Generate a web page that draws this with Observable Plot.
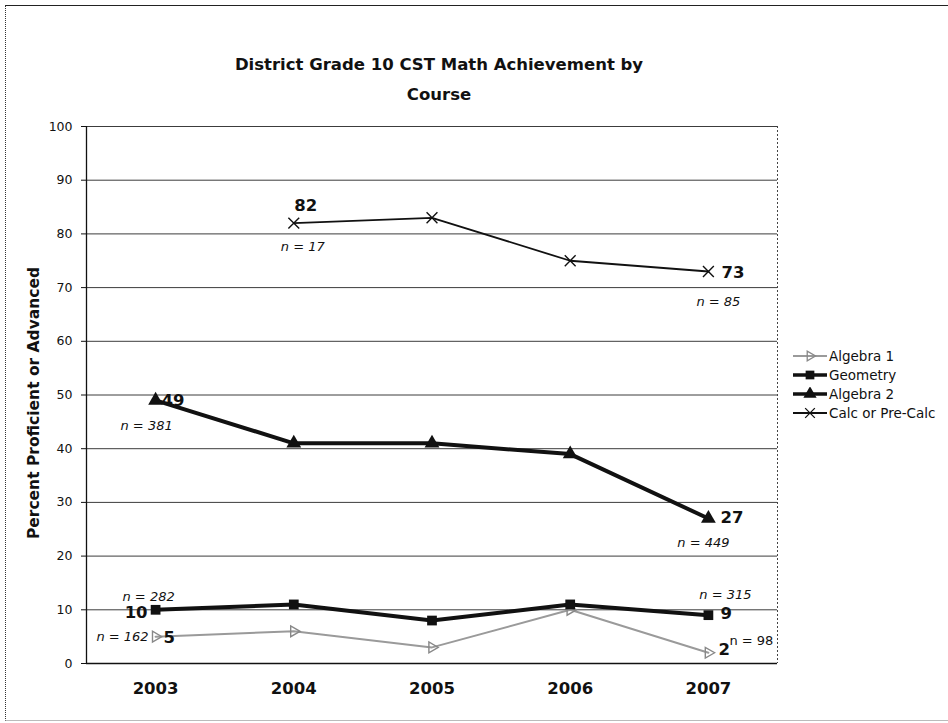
<!DOCTYPE html>
<html>
<head>
<meta charset="utf-8">
<script src="https://cdn.jsdelivr.net/npm/d3@7"></script>
<script src="https://cdn.jsdelivr.net/npm/@observablehq/plot@0.6"></script>
<style>
  html, body { margin: 0; padding: 0; background: #fff; }
  #wrap { position: relative; width: 948px; height: 723px; overflow: hidden; font-family: "DejaVu Sans", Verdana, sans-serif; }
  #border { position: absolute; left: 5px; top: 5px; width: 943px; height: 716px; border-top: 1.5px solid #222; border-left: 1px dotted #333; border-bottom: 1px solid #bbb; box-sizing: border-box; }
  #title { position: absolute; left: 139px; width: 600px; top: 50px; text-align: center; font-weight: bold; font-size: 16.5px; line-height: 30px; color: #111; }
  #ylabel { position: absolute; left: 34px; top: 403px; transform: translate(-50%, -50%) rotate(-90deg); white-space: nowrap; font-weight: bold; font-size: 15.5px; color: #111; }
  #legend { position: absolute; left: 792px; top: 346px; font-size: 13.5px; color: #111; }
  #legend .row { display: flex; align-items: center; height: 19px; }
  #legend svg { margin-right: 1px; }
  #chart { position: absolute; left: 0; top: 0; }
</style>
</head>
<body>
<div id="wrap">
  <div id="border"></div>
  <div id="chart"></div>
  <div id="title">District Grade 10 CST Math Achievement by<br>Course</div>
  <div id="ylabel">Percent Proficient or Advanced</div>
  <div id="legend"></div>
</div>
<script>
// ---- data ----
const years = [2003, 2004, 2005, 2006, 2007];
const courses = ["Algebra 1", "Geometry", "Algebra 2", "Calc or Pre-Calc"];
const algebra1 = [5, 6, 3, 10, 2];
const geometry = [10, 11, 8, 11, 9];
const algebra2 = [49, 41, 41, 39, 27];
const calcPreCalc = [null, 82, 83, 75, 73];
const firstN = [162, 282, 381, 17];   // n for first year shown
const lastN = [98, 315, 449, 85];     // n for 2007
const yTicks = [0, 10, 20, 30, 40, 50, 60, 70, 80, 90, 100];

// ---- styles ----
const seriesList = [algebra1, geometry, algebra2, calcPreCalc];
const styles = {
  "Algebra 1": {stroke: "#9a9a9a", width: 2, symbol: "triangle", rotate: 90, r: 4, fill: "none", dotStroke: "#888"},
  "Geometry": {stroke: "#111", width: 4, symbol: "square", rotate: 0, r: 5.5, fill: "#111", dotStroke: "none"},
  "Algebra 2": {stroke: "#111", width: 4, symbol: "triangle", rotate: 0, r: 5.5, fill: "#111", dotStroke: "none"},
  "Calc or Pre-Calc": {stroke: "#111", width: 1.8, symbol: "times", rotate: 0, r: 5, fill: "none", dotStroke: "#111"}
};
// label placements: [valueAnchor, vdx, vdy, nAnchor, ndx, ndy, nItalic]
const placeFirst = {
  "Algebra 1": ["start", 8, 1, "end", -7, 0, true],
  "Geometry": ["end", -8, 3, "middle", -7, -13, true],
  "Algebra 2": ["start", 6, 0, "middle", -9, 25, true],
  "Calc or Pre-Calc": ["middle", 12, -17, "middle", 9, 24, true]
};
const placeLast = {
  "Algebra 1": ["start", 10, -3, "start", 21, -12, false],
  "Geometry": ["start", 12, -1, "middle", 17, -20, true],
  "Algebra 2": ["start", 12, -1, "middle", -5, 24, true],
  "Calc or Pre-Calc": ["start", 13, 1, "middle", 10, 30, true]
};

const rows = courses.flatMap((c, i) =>
  years.map((yr, j) => ({course: c, year: yr, value: seriesList[i][j]}))
).filter(d => d.value != null);

const marks = [
  Plot.ruleY(yTicks, {stroke: "#3c3c3c", strokeWidth: 1}),
  Plot.ruleX([2007.5], {stroke: "#444", strokeWidth: 1, strokeDasharray: "2,2"}),
  Plot.ruleX([2002.5], {stroke: "#111", strokeWidth: 1.3}),
  Plot.ruleY([0], {stroke: "#111", strokeWidth: 1.6}),
  Plot.axisY({ticks: yTicks, tickSize: 5, tickPadding: 9, fontSize: 12.5, label: null}),
  Plot.axisX({ticks: years, tickFormat: d => String(d), tickSize: 0, tickPadding: 19, fontSize: 16.5, fontWeight: "bold", label: null})
];

courses.forEach((c) => {
  const s = styles[c];
  const data = rows.filter(d => d.course === c);
  marks.push(Plot.line(data, {x: "year", y: "value", stroke: s.stroke, strokeWidth: s.width}));
  marks.push(Plot.dot(data, {x: "year", y: "value", symbol: s.symbol, r: s.r, fill: s.fill, stroke: s.dotStroke, strokeWidth: 1.4, rotate: s.rotate}));
});

courses.forEach((c, i) => {
  const data = rows.filter(d => d.course === c);
  const first = data[0], last = data[data.length - 1];
  [[first, placeFirst[c], firstN[i]], [last, placeLast[c], lastN[i]]].forEach(([d, p, n]) => {
    marks.push(Plot.text([d], {x: "year", y: "value", text: dd => String(dd.value),
      textAnchor: p[0], dx: p[1], dy: p[2], fontSize: 16.5, fontWeight: "bold", fill: "#111"}));
    marks.push(Plot.text([d], {x: "year", y: "value", text: () => "n = " + n,
      textAnchor: p[3], dx: p[4], dy: p[5], fontSize: 13, fontStyle: p[6] ? "italic" : "normal", fill: "#111"}));
  });
});

const chart = Plot.plot({
  width: 948, height: 723,
  marginTop: 126, marginBottom: 60, marginLeft: 86, marginRight: 171,
  style: {fontFamily: "DejaVu Sans", background: "transparent", color: "#111", overflow: "visible"},
  x: {domain: [2002.5, 2007.5]},
  y: {domain: [0, 100]},
  marks
});
document.getElementById("chart").appendChild(chart);

// ---- legend ----
const legend = document.getElementById("legend");
const ns = "http://www.w3.org/2000/svg";
courses.forEach(c => {
  const s = styles[c];
  const row = document.createElement("div");
  row.className = "row";
  const svg = document.createElementNS(ns, "svg");
  svg.setAttribute("width", 36); svg.setAttribute("height", 14);
  const line = document.createElementNS(ns, "line");
  line.setAttribute("x1", 1); line.setAttribute("x2", 35); line.setAttribute("y1", 7); line.setAttribute("y2", 7);
  line.setAttribute("stroke", s.stroke); line.setAttribute("stroke-width", Math.min(s.width, 3.5));
  svg.appendChild(line);
  const sym = {square: d3.symbolSquare, triangle: d3.symbolTriangle, times: d3.symbolTimes}[s.symbol];
  const path = document.createElementNS(ns, "path");
  path.setAttribute("d", d3.symbol(sym, Math.PI * s.r * s.r * 0.8)());
  path.setAttribute("transform", `translate(18,7) rotate(${s.rotate})`);
  path.setAttribute("fill", s.fill === "none" ? "none" : s.fill);
  path.setAttribute("stroke", s.dotStroke);
  path.setAttribute("stroke-width", 1.3);
  svg.appendChild(path);
  row.appendChild(svg);
  const t = document.createElement("span");
  t.textContent = c;
  row.appendChild(t);
  legend.appendChild(row);
});
</script>
</body>
</html>
